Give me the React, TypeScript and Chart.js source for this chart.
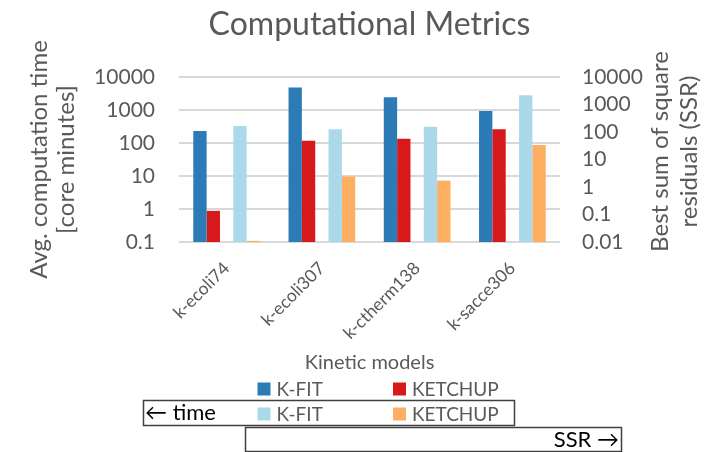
import React, { useEffect, useRef } from 'react';
import { Chart, registerables } from 'chart.js';

Chart.register(...registerables);

const categories = ['k-ecoli74', 'k-ecoli307', 'k-ctherm138', 'k-sacce306'];
const timeKfit = [230, 4800, 2450, 930];
const timeKetchup = [0.88, 118, 135, 260];
const ssrKfit = [166, 125, 156, 2150];
const ssrKetchup = [0.011, 2.4, 1.7, 34];
const timeTicks = [0.1, 1, 10, 100, 1000, 10000];
const ssrTicks = [0.01, 0.1, 1, 10, 100, 1000, 10000];
const seriesLabels = ['K-FIT', 'KETCHUP', 'K-FIT', 'KETCHUP'];
const seriesColors = ['#2c7bb6', '#d7191c', '#abd9e9', '#fdae61'];
const chartTitle = 'Computational Metrics';

const FONT = 'Lato';
const GREY = '#595959';

const overlayPlugin = {
  id: 'overlay',
  afterDraw(chart: any) {
    const { ctx, chartArea, scales } = chart;
    ctx.save();
    const cx = (chartArea.left + chartArea.right) / 2;

    // chart title centred over the plot area
    ctx.fillStyle = GREY;
    ctx.font = `32px ${FONT}`;
    ctx.textAlign = 'center';
    ctx.textBaseline = 'middle';
    ctx.fillText(chartTitle, cx, 25);

    // right axis title (reads bottom-to-top)
    const y1 = scales.y1;
    const cy = (chartArea.top + chartArea.bottom) / 2 - 8;
    ctx.font = `24px ${FONT}`;
    const rtitle = ['Best sum of square', 'residuals (SSR)'];
    rtitle.forEach((t, i) => {
      ctx.save();
      ctx.translate(y1.right - 60 + i * 29, cy);
      ctx.rotate(-Math.PI / 2);
      ctx.fillText(t, 0, 0);
      ctx.restore();
    });

    // legend grid
    const items = chart.data.datasets.filter((d: any) => d.label);
    ctx.font = `19px ${FONT}`;
    ctx.textAlign = 'left';
    items.forEach((d: any, i: number) => {
      const col = i % 2;
      const row = Math.floor(i / 2);
      const bx = cx - 112 + col * 135.5;
      const by = 389 + row * 25;
      ctx.fillStyle = d.backgroundColor;
      ctx.fillRect(bx, by - 6.5, 13, 13);
      ctx.fillStyle = GREY;
      ctx.fillText(d.label, bx + 19, by + 1);
    });

    // direction boxes
    ctx.strokeStyle = '#404040';
    ctx.lineWidth = 1.5;
    ctx.strokeRect(143.5, 400.5, 371, 25);
    ctx.strokeRect(245.5, 427.5, 376, 24);
    ctx.fillStyle = '#000000';
    ctx.font = `22px ${FONT}`;
    ctx.textAlign = 'left';
    ctx.fillText('\u2190 time', 145, 413);
    ctx.textAlign = 'right';
    ctx.fillText('SSR \u2192', 619, 440);
    ctx.restore();
  },
};

export default function App() {
  const ref = useRef<HTMLCanvasElement | null>(null);

  useEffect(() => {
    document.body.style.margin = '0';
    const canvas = ref.current;
    if (!canvas) return;
    const chart = new Chart(canvas, {
      type: 'bar',
      data: {
        labels: categories,
        datasets: [
          { label: seriesLabels[0], data: timeKfit, backgroundColor: seriesColors[0], yAxisID: 'y' },
          { label: seriesLabels[1], data: timeKetchup, backgroundColor: seriesColors[1], yAxisID: 'y' },
          { label: '', data: categories.map(() => null), backgroundColor: 'rgba(0,0,0,0)', yAxisID: 'y' },
          { label: seriesLabels[2], data: ssrKfit, backgroundColor: seriesColors[2], yAxisID: 'y1' },
          { label: seriesLabels[3], data: ssrKetchup, backgroundColor: seriesColors[3], yAxisID: 'y1' },
        ] as any,
      },
      options: {
        responsive: false,
        animation: false,
        categoryPercentage: 0.7,
        barPercentage: 1.0,
        layout: { padding: { top: 77, left: 0, right: 0, bottom: 0 } },
        plugins: {
          legend: { display: false },
          tooltip: { enabled: false },
          title: { display: false },
        },
        scales: {
          x: {
            grid: { display: false },
            border: { display: false },
            ticks: {
              color: GREY,
              font: { family: FONT, size: 17.5 },
              maxRotation: 45,
              minRotation: 45,
              padding: 8,
              autoSkip: false,
            },
            title: {
              display: true,
              text: 'Kinetic models',
              color: GREY,
              font: { family: FONT, size: 20, lineHeight: 1.2 },
              padding: { top: 0, bottom: 77 },
            },
            afterFit: (s: any) => { s.height = 210; },
          },
          y: {
            type: 'logarithmic',
            position: 'left',
            min: 0.1,
            max: 10000,
            grid: { color: '#d9d9d9', lineWidth: 2, drawTicks: false },
            border: { display: false },
            ticks: {
              color: GREY,
              font: { family: FONT, size: 21 },
              padding: 24,
              autoSkip: false,
              callback: (v: any) => String(v),
            },
            afterBuildTicks: (s: any) => { s.ticks = timeTicks.map((v) => ({ value: v })); },
            title: {
              display: true,
              text: ['Avg. computation time', '[core minutes]'],
              color: GREY,
              font: { family: FONT, size: 24, lineHeight: 1.15 },
              padding: { top: 25, bottom: 0 },
            },
            afterFit: (s: any) => { s.width = 179; },
          },
          y1: {
            type: 'logarithmic',
            position: 'right',
            min: 0.01,
            max: 10000,
            grid: { display: false, drawTicks: false },
            border: { display: false },
            ticks: {
              color: GREY,
              font: { family: FONT, size: 21 },
              padding: 22,
              autoSkip: false,
              callback: (v: any) => String(v),
            },
            afterBuildTicks: (s: any) => { s.ticks = ssrTicks.map((v) => ({ value: v })); },
            afterFit: (s: any) => { s.width = 160; },
          },
        },
      } as any,
      plugins: [overlayPlugin],
    });
    return () => chart.destroy();
  }, []);

  return (
    <div style={{ width: 720, height: 452, background: '#ffffff' }}>
      <canvas ref={ref} width={720} height={452} style={{ display: 'block' }} />
    </div>
  );
}
